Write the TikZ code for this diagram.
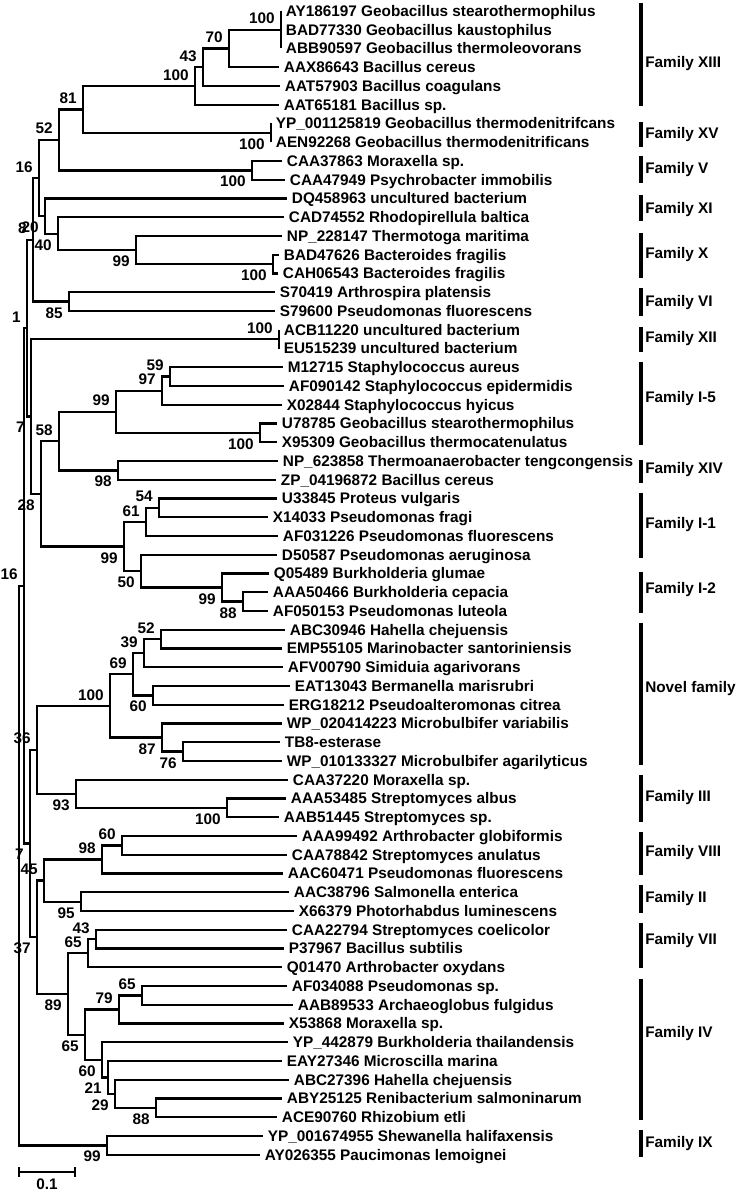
\documentclass[tikz,border=0pt]{standalone}
\usepackage{fontspec}
\setmainfont{Liberation Sans}
\usetikzlibrary{calc}
\newcommand\treefont{\fontsize{11.5}{13}\selectfont\bfseries}
\tikzset{
  br/.style={line width=1.7pt},
  leaf/.style={anchor=west, inner xsep=3.5pt, inner ysep=0pt, text height=8.2pt, text depth=0pt, font=\treefont},
  bsa/.style={anchor=south east, inner sep=0pt, font=\treefont},
  bsb/.style={anchor=north east, inner sep=0pt, font=\treefont},
  famtext/.style={anchor=west, inner sep=0pt, text height=8.2pt, text depth=0pt, font=\treefont},
  fbar/.style={line width=2.5pt},
}
\newcommand\kids[3]{\draw[br] (#1) |- (#2); \draw[br] (#1) |- (#3);}
\newcommand\lblA[2]{\node[bsa] (b#1) at ($(#1)+(-6,-5.5)$) {#2};}
\newcommand\lblB[2]{\node[bsb] (b#1) at ($(#1)+(-6,5.5)$) {#2};}
\newcommand\famgroup[5]{\coordinate (f#1a) at (641,#2); \coordinate (f#1b) at (641,#3); \draw[fbar] (f#1a) -- (f#1b); \node[famtext] (t#1) at (645,#4) {#5};}
\begin{document}
\begin{tikzpicture}[x=0.75pt,y=-0.75pt]
\path[use as bounding box] (0,0) rectangle (743,1191);
% leaves
\node[leaf] (l1) at (281,11) {AY186197 Geobacillus stearothermophilus};
\node[leaf] (l2) at (281,29.75) {BAD77330 Geobacillus kaustophilus};
\node[leaf] (l3) at (281,48.5) {ABB90597 Geobacillus thermoleovorans};
\node[leaf] (l4) at (279,67.25) {AAX86643 Bacillus cereus};
\node[leaf] (l5) at (280,86) {AAT57903 Bacillus coagulans};
\node[leaf] (l6) at (279,104.75) {AAT65181 Bacillus sp.};
\node[leaf] (l7) at (271,123.5) {YP\_001125819 Geobacillus thermodenitrifcans};
\node[leaf] (l8) at (271,142.25) {AEN92268 Geobacillus thermodenitrificans};
\node[leaf] (l9) at (282,161) {CAA37863 Moraxella sp.};
\node[leaf] (l10) at (285,179.75) {CAA47949 Psychrobacter immobilis};
\node[leaf] (l11) at (287,198.5) {DQ458963 uncultured bacterium};
\node[leaf] (l12) at (284,217.25) {CAD74552 Rhodopirellula baltica};
\node[leaf] (l13) at (282,236) {NP\_228147 Thermotoga maritima};
\node[leaf] (l14) at (279,254.75) {BAD47626 Bacteroides fragilis};
\node[leaf] (l15) at (278,273.5) {CAH06543 Bacteroides fragilis};
\node[leaf] (l16) at (275,292.25) {S70419 Arthrospira platensis};
\node[leaf] (l17) at (275,311) {S79600 Pseudomonas fluorescens};
\node[leaf] (l18) at (279,329.75) {ACB11220 uncultured bacterium};
\node[leaf] (l19) at (279,348.5) {EU515239 uncultured bacterium};
\node[leaf] (l20) at (283,367.25) {M12715 Staphylococcus aureus};
\node[leaf] (l21) at (284,386) {AF090142 Staphylococcus epidermidis};
\node[leaf] (l22) at (282,404.75) {X02844 Staphylococcus hyicus};
\node[leaf] (l23) at (277,423.5) {U78785 Geobacillus stearothermophilus};
\node[leaf] (l24) at (277,442.25) {X95309 Geobacillus thermocatenulatus};
\node[leaf] (l25) at (278,461) {NP\_623858 Thermoanaerobacter tengcongensis};
\node[leaf] (l26) at (276,479.75) {ZP\_04196872 Bacillus cereus};
\node[leaf] (l27) at (277,498.5) {U33845 Proteus vulgaris};
\node[leaf] (l28) at (268,517.25) {X14033 Pseudomonas fragi};
\node[leaf] (l29) at (278,536) {AF031226 Pseudomonas fluorescens};
\node[leaf] (l30) at (277,554.75) {D50587 Pseudomonas aeruginosa};
\node[leaf] (l31) at (269,573.5) {Q05489 Burkholderia glumae};
\node[leaf] (l32) at (268,592.25) {AAA50466 Burkholderia cepacia};
\node[leaf] (l33) at (268,611) {AF050153 Pseudomonas luteola};
\node[leaf] (l34) at (285,629.75) {ABC30946 Hahella chejuensis};
\node[leaf] (l35) at (282,648.5) {EMP55105 Marinobacter santoriniensis};
\node[leaf] (l36) at (283,667.25) {AFV00790 Simiduia agarivorans};
\node[leaf] (l37) at (290,686) {EAT13043 Bermanella marisrubri};
\node[leaf] (l38) at (284,704.75) {ERG18212 Pseudoalteromonas citrea};
\node[leaf] (l39) at (282,723.5) {WP\_020414223 Microbulbifer variabilis};
\node[leaf] (l40) at (280,742.25) {TB8-esterase};
\node[leaf] (l41) at (282,761) {WP\_010133327 Microbulbifer agarilyticus};
\node[leaf] (l42) at (288,779.75) {CAA37220 Moraxella sp.};
\node[leaf] (l43) at (286,798.5) {AAA53485 Streptomyces albus};
\node[leaf] (l44) at (279,817.25) {AAB51445 Streptomyces sp.};
\node[leaf] (l45) at (297,836) {AAA99492 Arthrobacter globiformis};
\node[leaf] (l46) at (287,854.75) {CAA78842 Streptomyces anulatus};
\node[leaf] (l47) at (283,873.5) {AAC60471 Pseudomonas fluorescens};
\node[leaf] (l48) at (289,892.25) {AAC38796 Salmonella enterica};
\node[leaf] (l49) at (294,911) {X66379 Photorhabdus luminescens};
\node[leaf] (l50) at (287,929.75) {CAA22794 Streptomyces coelicolor};
\node[leaf] (l51) at (284,948.5) {P37967 Bacillus subtilis};
\node[leaf] (l52) at (282,967.25) {Q01470 Arthrobacter oxydans};
\node[leaf] (l53) at (287,986) {AF034088 Pseudomonas sp.};
\node[leaf] (l54) at (293,1004.75) {AAB89533 Archaeoglobus fulgidus};
\node[leaf] (l55) at (284,1023.5) {X53868 Moraxella sp.};
\node[leaf] (l56) at (288,1042.25) {YP\_442879 Burkholderia thailandensis};
\node[leaf] (l57) at (282,1061) {EAY27346 Microscilla marina};
\node[leaf] (l58) at (289,1079.75) {ABC27396 Hahella chejuensis};
\node[leaf] (l59) at (282,1098.5) {ABY25125 Renibacterium salmoninarum};
\node[leaf] (l60) at (277,1117.25) {ACE90760 Rhizobium etli};
\node[leaf] (l61) at (263,1136) {YP\_001674955 Shewanella halifaxensis};
\node[leaf] (l62) at (260,1154.75) {AY026355 Paucimonas lemoignei};
% internal nodes
\coordinate (n100a) at (281,29.75);
\coordinate (n70) at (229,48.5);
\coordinate (n43) at (203,67.25);
\coordinate (n100b) at (195,86);
\coordinate (nXV) at (271,132.875);
\coordinate (n81) at (83,109.44);
\coordinate (nV) at (252,170.375);
\coordinate (n52) at (59,139.91);
\coordinate (nBac) at (273,264.125);
\coordinate (n99a) at (136,250.06);
\coordinate (n40) at (58,233.66);
\coordinate (nA) at (45,216.08);
\coordinate (n16a) at (39,177.99);
\coordinate (n85) at (69,301.625);
\coordinate (nB) at (33,239.81);
\coordinate (nXII) at (279,339.125);
\coordinate (n59) at (170,376.625);
\coordinate (n97) at (162,390.69);
\coordinate (n100c) at (260,432.875);
\coordinate (n99b) at (116,411.78);
\coordinate (n98a) at (118,470.375);
\coordinate (n58) at (59,441.08);
\coordinate (n54) at (159,507.875);
\coordinate (n61) at (146,521.94);
\coordinate (n88a) at (243,601.625);
\coordinate (n99c) at (222,587.56);
\coordinate (n50) at (141,571.16);
\coordinate (n99d) at (124,546.55);
\coordinate (nK) at (41,493.81);
\coordinate (nC) at (31,416.47);
\coordinate (nD) at (27,328.14);
\coordinate (n52b) at (161,639.125);
\coordinate (n39) at (144,653.19);
\coordinate (n60a) at (153,695.375);
\coordinate (n69) at (133,674.28);
\coordinate (n76) at (183,751.625);
\coordinate (n87) at (162,737.56);
\coordinate (n100d) at (110,705.92);
\coordinate (n100e) at (227,807.875);
\coordinate (n93) at (76,793.81);
\coordinate (nF) at (37,749.87);
\coordinate (n60b) at (122,845.375);
\coordinate (n98b) at (102,859.44);
\coordinate (n95) at (81,901.625);
\coordinate (nI) at (44,880.53);
\coordinate (n43b) at (96,939.125);
\coordinate (n65a) at (88,953.19);
\coordinate (n65c) at (142,995.375);
\coordinate (n79) at (119,1009.44);
\coordinate (n88b) at (156,1107.875);
\coordinate (n29) at (115,1093.81);
\coordinate (n21) at (108,1077.41);
\coordinate (n60c) at (102,1059.83);
\coordinate (n65b) at (85,1034.63);
\coordinate (n89) at (68,993.91);
\coordinate (nH) at (37,937.22);
\coordinate (nG) at (30,843.54);
\coordinate (nE) at (24,585.84);
\coordinate (nIX) at (107,1145.375);
\coordinate (root) at (19,865.6);
% branches
\kids{n100a}{l1.west}{l3.west}
\kids{n70}{n100a}{l4.west}
\kids{n43}{n70}{l5.west}
\kids{n100b}{n43}{l6.west}
\kids{nXV}{l7.west}{l8.west}
\kids{n81}{n100b}{nXV}
\kids{nV}{l9.west}{l10.west}
\kids{n52}{n81}{nV}
\kids{nBac}{l14.west}{l15.west}
\kids{n99a}{l13.west}{nBac}
\kids{n40}{l12.west}{n99a}
\kids{nA}{l11.west}{n40}
\kids{n16a}{n52}{nA}
\kids{n85}{l16.west}{l17.west}
\kids{nB}{n16a}{n85}
\kids{nXII}{l18.west}{l19.west}
\kids{n59}{l20.west}{l21.west}
\kids{n97}{n59}{l22.west}
\kids{n100c}{l23.west}{l24.west}
\kids{n99b}{n97}{n100c}
\kids{n98a}{l25.west}{l26.west}
\kids{n58}{n99b}{n98a}
\kids{n54}{l27.west}{l28.west}
\kids{n61}{n54}{l29.west}
\kids{n88a}{l32.west}{l33.west}
\kids{n99c}{l31.west}{n88a}
\kids{n50}{l30.west}{n99c}
\kids{n99d}{n61}{n50}
\kids{nK}{n58}{n99d}
\kids{nC}{nXII}{nK}
\kids{nD}{nB}{nC}
\kids{n52b}{l34.west}{l35.west}
\kids{n39}{n52b}{l36.west}
\kids{n60a}{l37.west}{l38.west}
\kids{n69}{n39}{n60a}
\kids{n76}{l40.west}{l41.west}
\kids{n87}{l39.west}{n76}
\kids{n100d}{n69}{n87}
\kids{n100e}{l43.west}{l44.west}
\kids{n93}{l42.west}{n100e}
\kids{nF}{n100d}{n93}
\kids{n60b}{l45.west}{l46.west}
\kids{n98b}{n60b}{l47.west}
\kids{n95}{l48.west}{l49.west}
\kids{nI}{n98b}{n95}
\kids{n43b}{l50.west}{l51.west}
\kids{n65a}{n43b}{l52.west}
\kids{n65c}{l53.west}{l54.west}
\kids{n79}{n65c}{l55.west}
\kids{n88b}{l59.west}{l60.west}
\kids{n29}{l58.west}{n88b}
\kids{n21}{l57.west}{n29}
\kids{n60c}{l56.west}{n21}
\kids{n65b}{n79}{n60c}
\kids{n89}{n65a}{n65b}
\kids{nH}{nI}{n89}
\kids{nG}{nF}{nH}
\kids{nE}{nD}{nG}
\kids{nIX}{l61.west}{l62.west}
\kids{root}{nE}{nIX}
% bootstrap labels
\lblA{n100a}{100}
\lblA{n70}{70}
\lblA{n43}{43}
\lblA{n100b}{100}
\lblB{nXV}{100}
\lblA{n81}{81}
\lblB{nV}{100}
\lblA{n52}{52}
\lblA{n16a}{16}
\lblB{nA}{20}
\lblB{n40}{40}
\lblB{n99a}{99}
\lblB{nBac}{100}
\lblA{nB}{8}
\lblB{n85}{85}
\lblA{nD}{1}
\lblA{nXII}{100}
\lblB{nC}{7}
\lblA{n59}{59}
\lblA{n97}{97}
\lblA{n99b}{99}
\lblB{n100c}{100}
\lblA{n58}{58}
\lblB{n98a}{98}
\lblB{nK}{28}
\lblA{n54}{54}
\lblA{n61}{61}
\lblB{n99d}{99}
\lblB{n50}{50}
\lblB{n99c}{99}
\lblB{n88a}{88}
\lblA{nE}{16}
\lblA{n52b}{52}
\lblA{n39}{39}
\lblA{n69}{69}
\lblB{n60a}{60}
\lblA{n100d}{100}
\lblB{n87}{87}
\lblB{n76}{76}
\lblA{nF}{36}
\lblB{n93}{93}
\lblB{n100e}{100}
\lblB{nG}{7}
\lblA{n60b}{60}
\lblA{n98b}{98}
\lblA{nI}{45}
\lblB{n95}{95}
\lblB{nH}{37}
\lblA{n43b}{43}
\lblA{n65a}{65}
\lblB{n89}{89}
\lblB{n65b}{65}
\lblA{n79}{79}
\lblA{n65c}{65}
\lblB{n60c}{60}
\lblB{n21}{21}
\lblB{n29}{29}
\lblB{n88b}{88}
\lblB{nIX}{99}
% families
\famgroup{XIII}{3}{106}{62}{Family XIII}
\famgroup{XV}{122}{147}{133}{Family XV}
\famgroup{V}{156}{183}{168}{Family V}
\famgroup{XI}{195}{221}{208}{Family XI}
\famgroup{X}{233}{278}{253}{Family X}
\famgroup{VI}{288}{316}{301}{Family VI}
\famgroup{XII}{327}{352}{337}{Family XII}
\famgroup{Ifive}{362}{445}{397}{Family I-5}
\famgroup{XIV}{460}{483}{468}{Family XIV}
\famgroup{Ione}{493}{558}{523}{Family I-1}
\famgroup{Itwo}{572}{613}{588}{Family I-2}
\famgroup{Novel}{623}{765}{687}{Novel family}
\famgroup{III}{775}{822}{796}{Family III}
\famgroup{VIII}{832}{875}{851}{Family VIII}
\famgroup{II}{885}{913}{897}{Family II}
\famgroup{VII}{923}{968}{939}{Family VII}
\famgroup{IV}{979}{1120}{1032}{Family IV}
\famgroup{IX}{1130}{1157}{1142}{Family IX}
% scale bar
\coordinate (sb1) at (19,1172);
\coordinate (sb2) at (75,1172);
\draw[br] (sb1) -- (sb2);
\draw[br] ($(sb1)+(0,-5)$) -- ($(sb1)+(0,5)$);
\draw[br] ($(sb2)+(0,-5)$) -- ($(sb2)+(0,5)$);
\node[font=\treefont, inner sep=0pt] (sblabel) at (47,1184) {0.1};
\end{tikzpicture}
\end{document}
